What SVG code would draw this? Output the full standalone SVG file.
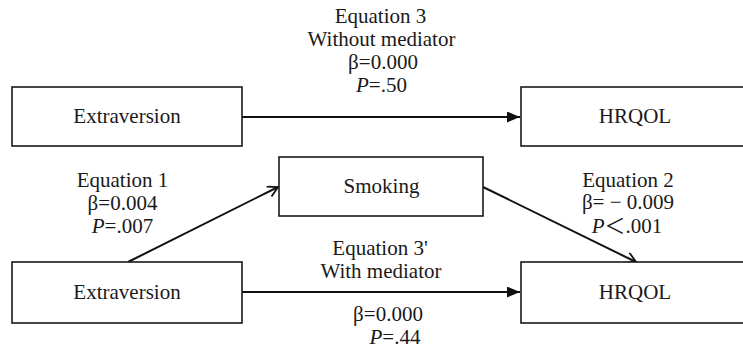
<svg xmlns="http://www.w3.org/2000/svg" width="743" height="351" viewBox="0 0 743 351">
  <style>
    .box { fill: #ffffff; stroke: #1a1a1a; stroke-width: 1.6; }
    .lbl { font-family: "Liberation Serif", "Noto Sans CJK SC", serif; font-size: 21px; fill: #1a1a1a; text-anchor: middle; }
    .it { font-style: italic; }
    .conn { stroke: #111111; stroke-width: 2; fill: none; }
  </style>
  <defs>
    <marker id="filled" markerUnits="userSpaceOnUse" markerWidth="14" markerHeight="12" refX="13" refY="5.5" orient="auto">
      <path d="M0,0 L13,5.5 L0,11 Z" fill="#111111"/>
    </marker>
    <marker id="open" markerUnits="userSpaceOnUse" markerWidth="14" markerHeight="14" refX="11" refY="6" orient="auto">
      <path d="M1,0.5 L11,6 L1,11.5" fill="none" stroke="#111111" stroke-width="1.8"/>
    </marker>
  </defs>
  <rect width="743" height="351" fill="#ffffff"/>

  <g id="connectors">
    <line class="conn" x1="242" y1="117" x2="520" y2="117" marker-end="url(#filled)"/>
    <line class="conn" x1="242" y1="292" x2="520" y2="292" marker-end="url(#filled)"/>
    <line class="conn" x1="128" y1="262" x2="278" y2="187" marker-end="url(#open)"/>
    <line class="conn" x1="483" y1="187" x2="636" y2="262" marker-end="url(#open)"/>
  </g>

  <g id="node-extraversion-top">
    <rect class="box" x="12" y="87" width="230" height="59"/>
    <text class="lbl" x="127" y="123">Extraversion</text>
  </g>
  <g id="node-hrqol-top">
    <rect class="box" x="521" y="87" width="230" height="59"/>
    <text class="lbl" x="635" y="123">HRQOL</text>
  </g>
  <g id="node-smoking">
    <rect class="box" x="279" y="157" width="204" height="59"/>
    <text class="lbl" x="381.5" y="193">Smoking</text>
  </g>
  <g id="node-extraversion-bottom">
    <rect class="box" x="12" y="262" width="230" height="61"/>
    <text class="lbl" x="127" y="299">Extraversion</text>
  </g>
  <g id="node-hrqol-bottom">
    <rect class="box" x="521" y="262" width="230" height="61"/>
    <text class="lbl" x="635" y="299">HRQOL</text>
  </g>

  <g id="labels-eq3">
    <text class="lbl" x="380.5" y="23">Equation 3</text>
    <text class="lbl" x="381.5" y="46">Without mediator</text>
    <text class="lbl" x="383" y="69">β=0.000</text>
    <text class="lbl" x="381.5" y="92"><tspan class="it">P</tspan>=.50</text>
  </g>
  <g id="labels-eq1">
    <text class="lbl" x="122.5" y="187">Equation 1</text>
    <text class="lbl" x="122.5" y="210">β=0.004</text>
    <text class="lbl" x="122.5" y="233"><tspan class="it">P</tspan>=.007</text>
  </g>
  <g id="labels-eq2">
    <text class="lbl" x="628" y="187">Equation 2</text>
    <text class="lbl" x="628" y="209">β= − 0.009</text>
    <text class="lbl" x="627" y="233"><tspan class="it">P</tspan>＜.001</text>
  </g>
  <g id="labels-eq3prime">
    <text class="lbl" x="380" y="255">Equation 3'</text>
    <text class="lbl" x="381" y="278">With mediator</text>
    <text class="lbl" x="388" y="321">β=0.000</text>
    <text class="lbl" x="395" y="344"><tspan class="it">P</tspan>=.44</text>
  </g>
</svg>
